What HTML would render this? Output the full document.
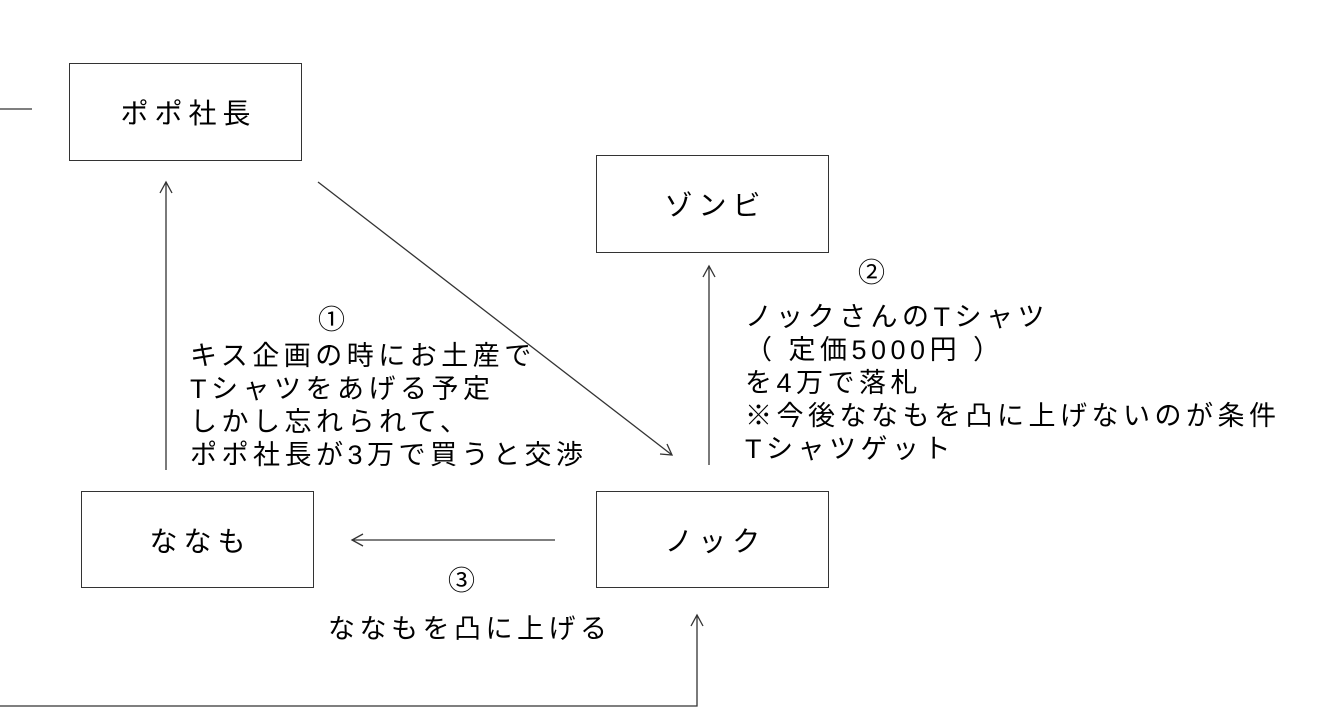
<!DOCTYPE html>
<html><head><meta charset="utf-8"><style>
body{margin:0;width:1339px;height:720px;background:#fff;position:relative;overflow:hidden;font-family:"Liberation Sans","Noto Sans CJK JP",sans-serif;color:#000}
.b{position:absolute;border:1.5px solid #333;box-sizing:border-box;display:flex;align-items:center;justify-content:center;font-size:28px;letter-spacing:6px;padding-left:6px}
.t{position:absolute;font-size:27px;line-height:33px;white-space:nowrap;letter-spacing:4.5px}
svg{position:absolute;left:0;top:0}
</style></head><body>
<svg width="1339" height="720">
<g stroke="#333" stroke-width="1.3" fill="none">
<line x1="0" y1="109" x2="32" y2="109"/>
<line x1="166" y1="470" x2="166" y2="182"/><polyline points="160,193 166,182 172,193"/>
<line x1="318" y1="182" x2="672" y2="455"/><polyline points="660,454 672,455 667,444"/>
<line x1="709" y1="465" x2="709" y2="266"/><polyline points="703,277 709,266 715,277"/>
<line x1="555" y1="540" x2="352" y2="540"/><polyline points="363,534 352,540 363,546"/>
<polyline points="0,706 697,706 697,615"/><polyline points="691,626 697,615 703,626"/>
</g></svg>
<div class="b" style="left:69px;top:63px;width:233px;height:98px">ポポ社長</div>
<div class="b" style="left:596px;top:155px;width:233px;height:98px">ゾンビ</div>
<div class="b" style="left:81px;top:491px;width:233px;height:97px">ななも</div>
<div class="b" style="left:596px;top:491px;width:233px;height:97px">ノック</div>
<div class="t" style="left:318px;top:304px">①</div>
<div class="t" style="left:190px;top:340px">キス企画の時にお土産で<br>Tシャツをあげる予定<br>しかし忘れられて、<br>ポポ社長が3万で買うと交渉</div>
<div class="t" style="left:858px;top:257px">②</div>
<div class="t" style="left:745px;top:301px">ノックさんのTシャツ<br>（ 定価5000円 ）<br>を4万で落札<br>※今後ななもを凸に上げないのが条件<br>Tシャツゲット</div>
<div class="t" style="left:448px;top:565px">③</div>
<div class="t" style="left:328px;top:613px">ななもを凸に上げる</div>
</body></html>
